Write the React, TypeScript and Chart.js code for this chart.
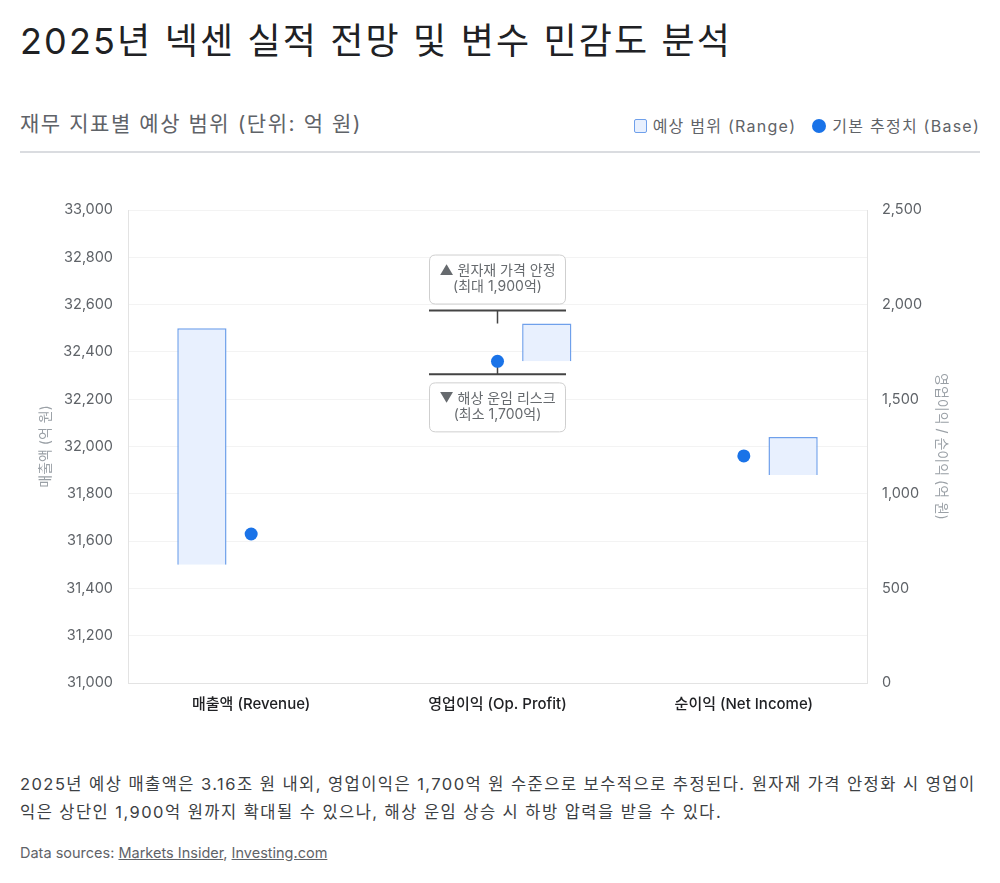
import React, { useEffect, useRef } from 'react';
import { Chart, registerables } from 'chart.js';

Chart.register(...registerables);

const categories = ['매출액 (Revenue)', '영업이익 (Op. Profit)', '순이익 (Net Income)'];
const revenueRange: ([number, number] | null)[] = [[31500, 32500], null, null];
const profitRange: ([number, number] | null)[] = [null, [1700, 1900], [1100, 1300]];
const revenueBase: (number | null)[] = [31630, null, null];
const profitBase: (number | null)[] = [null, 1700, 1200];
const leftAxis = { min: 31000, max: 33000, step: 200 };
const rightAxis = { min: 0, max: 2500, step: 500 };
const scenarioIndex = 1;
const scenarioHigh = 1900;
const scenarioLow = 1700;
const upperLabel = ['▲ 원자재 가격 안정', '(최대 1,900억)'];
const lowerLabel = ['▼ 해상 운임 리스크', '(최소 1,700억)'];

const FONT = "Inter, 'Noto Sans CJK KR', sans-serif";
const BLUE = '#1a73e8';
const RANGE_FILL = '#e8f0fe';
const RANGE_BORDER = '#6fa0eb';

function roundRect(ctx: CanvasRenderingContext2D, x: number, y: number, w: number, h: number, r: number) {
  ctx.beginPath();
  ctx.moveTo(x + r, y);
  ctx.lineTo(x + w - r, y);
  ctx.quadraticCurveTo(x + w, y, x + w, y + r);
  ctx.lineTo(x + w, y + h - r);
  ctx.quadraticCurveTo(x + w, y + h, x + w - r, y + h);
  ctx.lineTo(x + r, y + h);
  ctx.quadraticCurveTo(x, y + h, x, y + h - r);
  ctx.lineTo(x, y + r);
  ctx.quadraticCurveTo(x, y, x + r, y);
  ctx.closePath();
}

const scenarioPlugin = {
  id: 'scenario',
  beforeDatasetsDraw(chart: any) {
    const ctx: CanvasRenderingContext2D = chart.ctx;
    const xs = chart.scales.x;
    const ys = chart.scales.y1;
    const cx = xs.getPixelForValue(scenarioIndex);
    const yHi = ys.getPixelForValue(scenarioHigh);
    const yLo = ys.getPixelForValue(scenarioLow);
    const half = 68.5;
    const upLine = yHi - 13;
    const loLine = yLo + 13;
    ctx.save();
    ctx.strokeStyle = '#444';
    ctx.lineWidth = 2;
    ctx.beginPath();
    ctx.moveTo(cx - half, upLine);
    ctx.lineTo(cx + half, upLine);
    ctx.moveTo(cx - half, loLine);
    ctx.lineTo(cx + half, loLine);
    ctx.stroke();
    ctx.lineWidth = 1.5;
    ctx.beginPath();
    ctx.moveTo(cx, upLine);
    ctx.lineTo(cx, yHi);
    ctx.moveTo(cx, loLine);
    ctx.lineTo(cx, yLo);
    ctx.stroke();

    const drawBox = (top: number, lines: string[]) => {
      const h = 49;
      ctx.fillStyle = '#ffffff';
      ctx.strokeStyle = '#cfcfcf';
      ctx.lineWidth = 1;
      roundRect(ctx, cx - half + 0.5, top + 0.5, half * 2 - 1, h, 6);
      ctx.fill();
      ctx.stroke();
      ctx.fillStyle = '#666a6e';
      ctx.font = `14px ${FONT}`;
      ctx.textAlign = 'center';
      ctx.textBaseline = 'middle';
      ctx.fillText(lines[0], cx, top + 16);
      ctx.fillText(lines[1], cx, top + 32);
    };
    drawBox(upLine - 7 - 49, upperLabel);
    drawBox(loLine + 8, lowerLabel);
    ctx.restore();
  },
};

function RangeChart() {
  const ref = useRef<HTMLCanvasElement | null>(null);
  useEffect(() => {
    if (!ref.current) return;
    const tickFont = { family: FONT, size: 14.5 };
    const chart = new Chart(ref.current, {
      type: 'bar',
      data: {
        labels: categories,
        datasets: [
          {
            type: 'bar',
            label: '매출액 범위',
            data: revenueRange as any,
            yAxisID: 'y',
            backgroundColor: RANGE_FILL,
            borderColor: RANGE_BORDER,
            borderWidth: 1.5,
            categoryPercentage: 0.8,
            barPercentage: 0.5,
            order: 1,
          },
          {
            type: 'bar',
            label: '이익 범위',
            data: profitRange as any,
            yAxisID: 'y1',
            backgroundColor: RANGE_FILL,
            borderColor: RANGE_BORDER,
            borderWidth: 1.5,
            categoryPercentage: 0.8,
            barPercentage: 0.5,
            order: 1,
          },
          {
            type: 'line',
            label: '매출액 기본',
            data: revenueBase,
            yAxisID: 'y',
            showLine: false,
            pointRadius: 6.5,
            pointBackgroundColor: BLUE,
            pointBorderWidth: 0,
            borderColor: BLUE,
            order: 0,
          },
          {
            type: 'line',
            label: '이익 기본',
            data: profitBase,
            yAxisID: 'y1',
            showLine: false,
            pointRadius: 6.5,
            pointBackgroundColor: BLUE,
            pointBorderWidth: 0,
            borderColor: BLUE,
            order: 0,
          },
        ],
      },
      options: {
        responsive: false,
        devicePixelRatio: 1,
        animation: false,
        layout: { padding: { top: 50, bottom: 0, left: 0, right: 0 } },
        plugins: { legend: { display: false }, tooltip: { enabled: false } },
        scales: {
          x: {
            grid: { display: false, drawTicks: false },
            border: { display: true, color: '#e3e3e3' },
            ticks: { font: { family: FONT, size: 15, weight: 500 }, color: '#202124', padding: 12 },
            afterFit: (s: any) => { s.height = 40; },
          },
          y: {
            position: 'left',
            min: leftAxis.min,
            max: leftAxis.max,
            grid: { color: '#f3f3f3', drawTicks: false },
            border: { display: true, color: '#e3e3e3' },
            ticks: {
              stepSize: leftAxis.step,
              font: tickFont,
              color: '#5f6368',
              padding: 15,
              callback: (v: any) => Number(v).toLocaleString('en-US'),
            },
            title: { display: true, text: '매출액 (억 원)', font: { family: FONT, size: 14 }, color: '#9aa0a6', padding: { top: 17, bottom: 0 } },
            afterFit: (s: any) => { s.width = 108; },
          },
          y1: {
            position: 'right',
            min: rightAxis.min,
            max: rightAxis.max,
            grid: { display: false, drawTicks: false },
            border: { display: true, color: '#e3e3e3' },
            ticks: {
              stepSize: rightAxis.step,
              font: tickFont,
              color: '#5f6368',
              padding: 15,
              callback: (v: any) => Number(v).toLocaleString('en-US'),
            },
            title: { display: true, text: '영업이익 / 순이익 (억 원)', font: { family: FONT, size: 14 }, color: '#9aa0a6', padding: { top: 30, bottom: 0 } },
            afterFit: (s: any) => { s.width = 113; },
          },
        },
      },
      plugins: [scenarioPlugin],
    } as any);
    return () => chart.destroy();
  }, []);
  return <canvas ref={ref} width={960} height={563} style={{ position: 'absolute', left: 20, top: 160, width: 960, height: 563 }} />;
}

export default function App() {
  const abs = (o: React.CSSProperties): React.CSSProperties => ({ position: 'absolute', ...o });
  return (
    <div style={{ position: 'absolute', left: 0, top: 0, width: 1000, height: 883, background: '#fff', fontFamily: FONT, overflow: 'hidden' }}>
      <div style={abs({ left: 20, top: 16, fontSize: 36, letterSpacing: 2.15, lineHeight: '50px', color: '#202124', whiteSpace: 'nowrap' })}>
        2025년 넥센 실적 전망 및 변수 민감도 분석
      </div>
      <div style={abs({ left: 20, top: 109, fontSize: 21, letterSpacing: 1.55, lineHeight: '30px', color: '#5f6368', whiteSpace: 'nowrap' })}>
        재무 지표별 예상 범위 (단위: 억 원)
      </div>
      <div style={abs({ right: 20, top: 114, fontSize: 16, letterSpacing: 1.25, lineHeight: '24px', color: '#5f6368', display: 'flex', alignItems: 'center', whiteSpace: 'nowrap' })}>
        <span style={{ display: 'inline-block', width: 11, height: 12, background: RANGE_FILL, border: `1.5px solid ${RANGE_BORDER}`, borderRadius: 2, marginRight: 6 }} />
        <span>예상 범위 (Range)</span>
        <span style={{ display: 'inline-block', width: 14, height: 14, background: BLUE, borderRadius: '50%', marginLeft: 16, marginRight: 6 }} />
        <span>기본 추정치 (Base)</span>
      </div>
      <div style={abs({ left: 20, top: 151, width: 960, height: 2, background: '#dadce0' })} />
      <RangeChart />
      <div style={abs({ left: 20, top: 770, width: 962, fontSize: 16.5, letterSpacing: 1.45, lineHeight: '28px', color: '#3c4043' })}>
        2025년 예상 매출액은 3.16조 원 내외, 영업이익은 1,700억 원 수준으로 보수적으로 추정된다. 원자재 가격 안정화 시 영업이익은 상단인 1,900억 원까지 확대될 수 있으나, 해상 운임 상승 시 하방 압력을 받을 수 있다.
      </div>
      <div style={abs({ left: 20, top: 843, fontSize: 14.5, lineHeight: '20px', color: '#5f6368', whiteSpace: 'nowrap' })}>
        Data sources: <span style={{ textDecoration: 'underline' }}>Markets Insider</span>, <span style={{ textDecoration: 'underline' }}>Investing.com</span>
      </div>
    </div>
  );
}
